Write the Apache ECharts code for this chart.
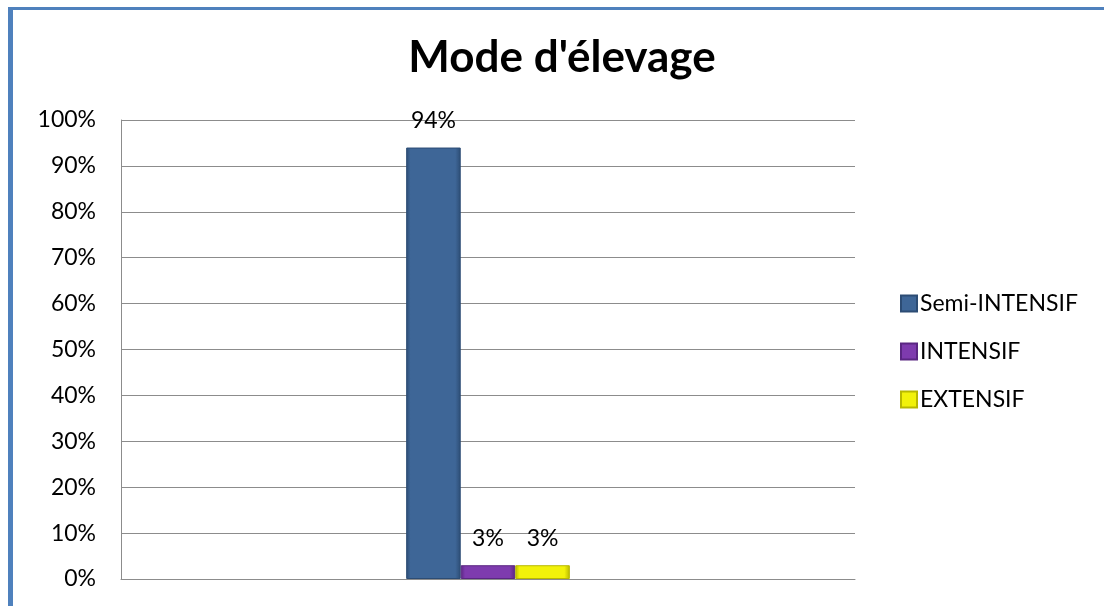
<!DOCTYPE html>
<html>
<head>
<meta charset="utf-8">
<script src="https://cdn.jsdelivr.net/npm/echarts@6/dist/echarts.min.js"></script>
<style>
html,body{margin:0;padding:0;background:#fff;}
#chart{width:1104px;height:606px;}
</style>
</head>
<body>
<div id="chart"></div>
<script>
const titleText = "Mode d'élevage";
const categories = [''];
const seriesNames = ['Semi-INTENSIF', 'INTENSIF', 'EXTENSIF'];
const seriesValues = [[94], [3], [3]];
const seriesColors = ['#3E6697', '#7E3BAE', '#F2F20A'];
const seriesBorders = ['#2C4C74', '#5A2682', '#B8B800'];
const yTicks = [0, 100, 10];

const FONT = 'Lato, "Open Sans", sans-serif';
const chart = echarts.init(document.getElementById('chart'));

const series = seriesNames.map((name, i) => ({
  name: name,
  type: 'bar',
  data: seriesValues[i],
  barGap: '0%',
  barCategoryGap: '77.7%',
  itemStyle: {
    color: new echarts.graphic.LinearGradient(0, 0, 1, 0, [
      {offset: 0, color: seriesBorders[i]},
      {offset: 0.08, color: seriesColors[i]},
      {offset: 0.9, color: seriesColors[i]},
      {offset: 1, color: seriesBorders[i]}
    ]),
    borderColor: seriesBorders[i],
    borderWidth: 1
  },
  label: {
    show: true,
    position: 'top',
    distance: 15,
    formatter: '{c}%',
    fontFamily: FONT,
    fontSize: 23,
    color: '#000'
  }
}));

chart.setOption({
  animation: false,
  backgroundColor: '#fff',
  title: {
    text: titleText,
    left: 557,
    textAlign: 'center',
    top: 31,
    textStyle: {fontFamily: FONT, fontWeight: 'bold', fontSize: 44, color: '#000'}
  },
  legend: {
    orient: 'vertical',
    left: 895,
    top: 287,
    itemWidth: 16,
    itemHeight: 16,
    itemGap: 25,
    icon: 'rect',
    textStyle: {fontFamily: FONT, fontSize: 23, color: '#000', padding: [0, 0, 0, -2]},
    data: seriesNames
  },
  grid: {left: 121, right: 249, top: 120, bottom: 27, containLabel: false},
  xAxis: {
    type: 'category',
    data: categories,
    axisLine: {show: true, lineStyle: {color: '#8C8C8C', width: 1}},
    axisTick: {show: false},
    axisLabel: {show: false}
  },
  yAxis: {
    type: 'value',
    min: yTicks[0],
    max: yTicks[1],
    interval: yTicks[2],
    axisLine: {show: true, lineStyle: {color: '#8C8C8C', width: 1}},
    axisTick: {show: false},
    axisLabel: {formatter: '{value}%', margin: 25, fontFamily: FONT, fontSize: 23, color: '#000'},
    splitLine: {show: true, lineStyle: {color: '#8C8C8C', width: 1}}
  },
  graphic: [
    {type: 'rect', shape: {x: 8, y: 7, width: 1096, height: 3}, style: {fill: '#4F81BD'}, silent: true},
    {type: 'rect', shape: {x: 8, y: 7, width: 5, height: 599}, style: {fill: '#4F81BD'}, silent: true}
  ],
  series: series
});
</script>
</body>
</html>
